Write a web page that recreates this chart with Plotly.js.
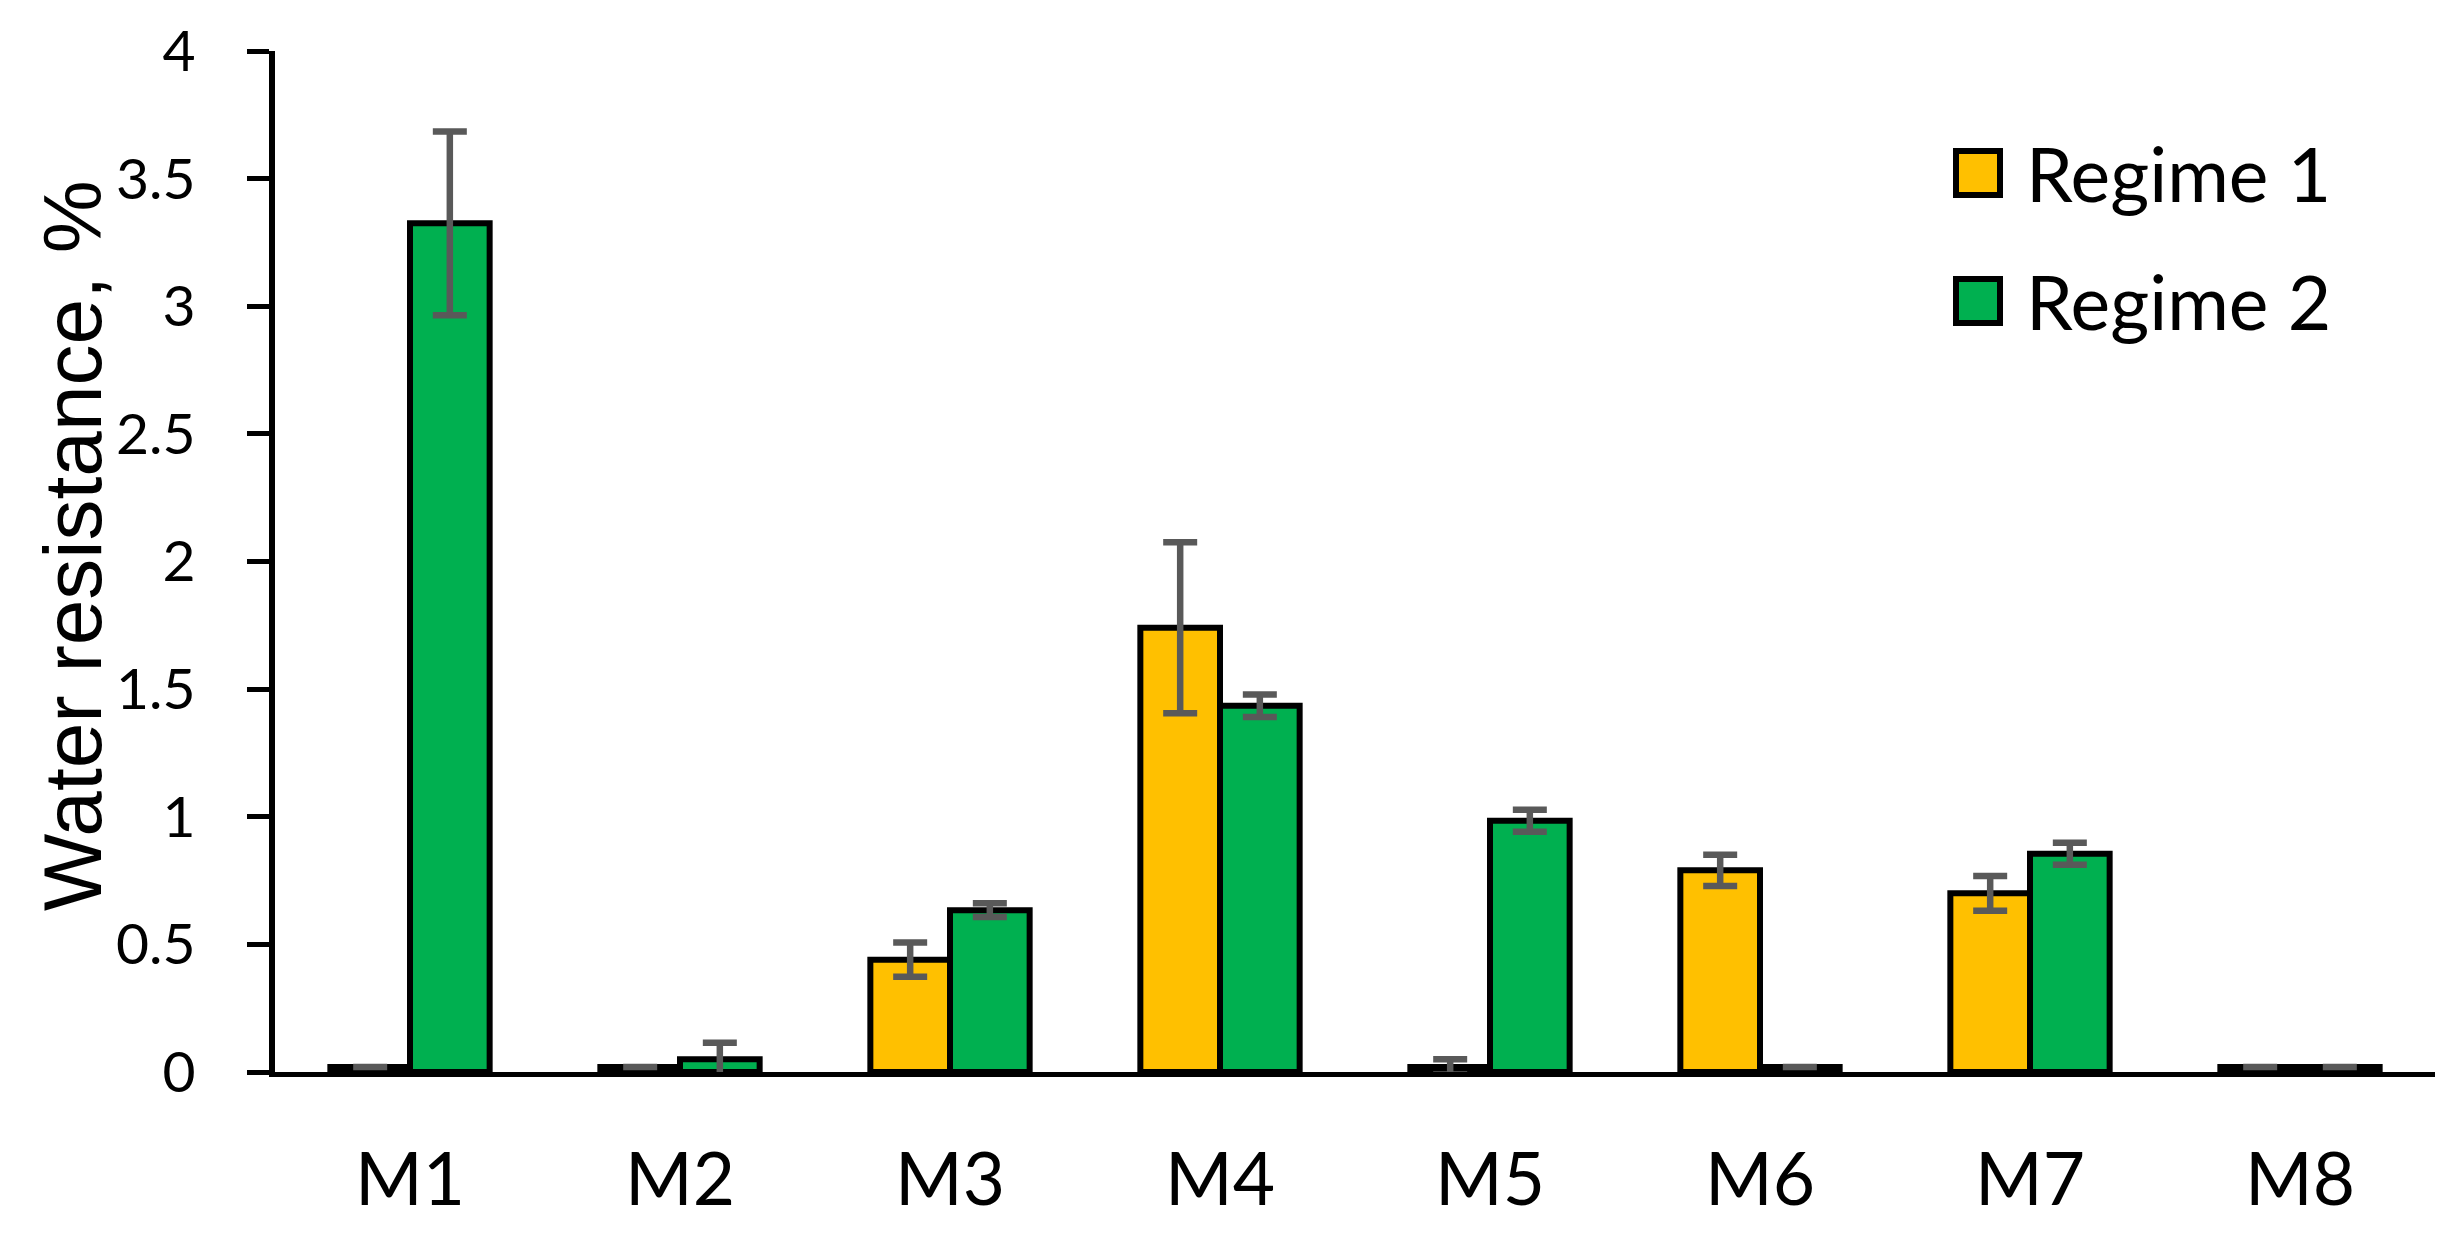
<!DOCTYPE html>
<html>
<head>
<meta charset="utf-8">
<script src="https://cdn.plot.ly/plotly-3.0.1.min.js"></script>
<style>
  html, body { margin: 0; padding: 0; background: #ffffff; }
  #chart { width: 2459px; height: 1259px; }
</style>
</head>
<body>
<div id="chart"></div>
<script>
// Water resistance of mixtures M1..M8 under two regimes
var categories = ['M1', 'M2', 'M3', 'M4', 'M5', 'M6', 'M7', 'M8'];
var series_names = ['Regime 1', 'Regime 2'];
var y_title = 'Water resistance, %';

var regime1 = [0.02, 0.02, 0.44, 1.74, 0.02, 0.79, 0.70, 0.02];
var regime1_err = [0, 0, 0.067, 0.335, 0.03, 0.061, 0.068, 0];

var regime2 = [3.325, 0.05, 0.634, 1.435, 0.984, 0.02, 0.855, 0.02];
var regime2_err = [0.36, 0.065, 0.027, 0.044, 0.043, 0, 0.043, 0];

var colors = ['#FFC000', '#00B050'];


// One bar trace with black outline and grey error bars
function make_trace(name, values, errors, color){
	return {
		type: 'bar',
		name: name,
		x: categories,
		y: values,
		marker: {
			color: color,
			line: {color: '#000000', width: 6}
		},
		error_y: {
			type: 'data',
			array: errors,
			visible: true,
			color: '#595959',
			thickness: 6.5,
			width: 17
		},
		showlegend: false,
		hoverinfo: 'x+y'
	};
}


var W = 2459, H = 1259;
var margin = {l: 275, r: 24, t: 51, b: 187};

// converts a pixel position on the page to paper coordinates (legend + title only)
function px_x(px){ return (px - margin.l) / (W - margin.l - margin.r); }
function px_y(py){ return (H - margin.b - py) / (H - margin.t - margin.b); }

// hand drawn legend: big outlined squares like the original
var legend_rows = [173, 301];
var shapes = [];
var annotations = [];
legend_rows.forEach(function(row, i){
	shapes.push({
		type: 'rect', xref: 'paper', yref: 'paper',
		x0: px_x(1956), x1: px_x(2000),
		y0: px_y(row + 22), y1: px_y(row - 22),
		fillcolor: colors[i],
		line: {color: '#000000', width: 6}
	});
	annotations.push({
		xref: 'paper', yref: 'paper',
		x: px_x(2024), y: px_y(row),
		xanchor: 'left', yanchor: 'middle',
		text: series_names[i],
		showarrow: false,
		font: {family: 'Lato, sans-serif', size: 75, color: '#000000'}
	});
});

// y axis title, placed as in the original (a bit left of the tick labels)
annotations.push({
	xref: 'paper', yref: 'paper',
	x: px_x(72), y: px_y(546),
	xanchor: 'center', yanchor: 'middle',
	textangle: -90,
	text: y_title,
	showarrow: false,
	font: {family: 'Liberation Sans, Arial, sans-serif', size: 82, color: '#000000'}
});

var data = [
	make_trace(series_names[0], regime1, regime1_err, colors[0]),
	make_trace(series_names[1], regime2, regime2_err, colors[1])
];

var layout = {
	width: W,
	height: H,
	margin: margin,
	paper_bgcolor: '#ffffff',
	plot_bgcolor: '#ffffff',
	barmode: 'group',
	bargap: 0.41,
	bargroupgap: 0,
	showlegend: false,
	font: {family: 'Lato, sans-serif', color: '#000000'},
	xaxis: {
		showline: true,
		linecolor: '#000000',
		linewidth: 5,
		ticks: '',
		showgrid: false,
		zeroline: false,
		tickfont: {family: 'Lato, sans-serif', size: 73, color: '#000000'},
		ticklabelstandoff: 40
	},
	yaxis: {
		range: [0, 4],
		dtick: 0.5,
		showline: true,
		linecolor: '#000000',
		linewidth: 6,
		ticks: 'outside',
		ticklen: 22,
		tickwidth: 5,
		tickcolor: '#000000',
		showgrid: false,
		zeroline: false,
		tickfont: {family: 'Lato, sans-serif', size: 57, color: '#000000'},
		ticklabelstandoff: 40
	},
	shapes: shapes,
	annotations: annotations
};

Plotly.newPlot('chart', data, layout, {displayModeBar: false, staticPlot: true});
</script>
</body>
</html>
